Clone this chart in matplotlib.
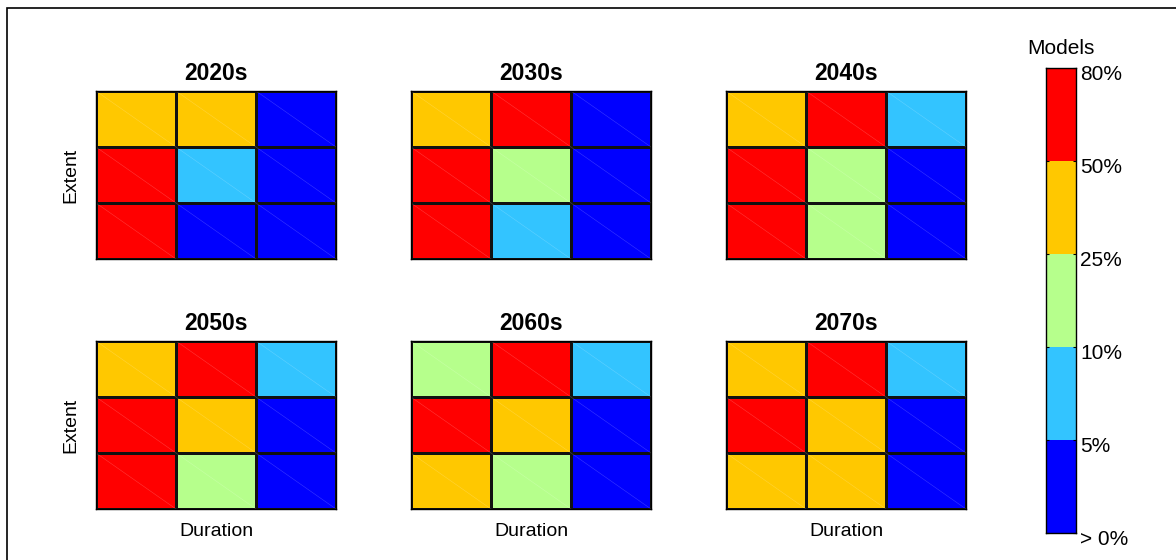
import matplotlib.pyplot as plt
import matplotlib.transforms as mtransforms
import numpy as np
from matplotlib.colors import ListedColormap, BoundaryNorm
from matplotlib.patches import Rectangle

plt.rcParams['font.family'] = ['Liberation Sans', 'DejaVu Sans']

# class index: 0 >0-5%, 1 5-10%, 2 10-25%, 3 25-50%, 4 50-80%
decades = ["2020s", "2030s", "2040s", "2050s", "2060s", "2070s"]
grid_2020 = [[3, 3, 0], [4, 1, 0], [4, 0, 0]]
grid_2030 = [[3, 4, 0], [4, 2, 0], [4, 1, 0]]
grid_2040 = [[3, 4, 1], [4, 2, 0], [4, 2, 0]]
grid_2050 = [[3, 4, 1], [4, 3, 0], [4, 2, 0]]
grid_2060 = [[2, 4, 1], [4, 3, 0], [3, 2, 0]]
grid_2070 = [[3, 4, 1], [4, 3, 0], [3, 3, 0]]
grids = [grid_2020, grid_2030, grid_2040, grid_2050, grid_2060, grid_2070]

class_colors = ["#0000FF", "#33C4FF", "#B6FF8C", "#FFC800", "#FF0000"]
tick_labels = ["> 0%", "5%", "10%", "25%", "50%", "80%"]

cmap = ListedColormap(class_colors)
norm = BoundaryNorm(np.arange(-0.5, 5.5, 1), cmap.N)

fig = plt.figure(figsize=(11.76, 5.6), dpi=100)

lefts = [96, 411, 726]
bottoms = [259, 509]
W, H = 1176.0, 560.0

for k, (name, g) in enumerate(zip(decades, grids)):
    r, c = divmod(k, 3)
    ax = fig.add_axes([lefts[c] / W, 1 - bottoms[r] / H, 240 / W, 168 / H])
    data = np.array(g)[::-1]
    ax.pcolormesh(data, cmap=cmap, norm=norm, edgecolors="#111111", linewidth=0.8)
    # faint diagonals from the original patch rendering
    for i in range(3):
        for j in range(3):
            ax.plot([j, j + 1], [i + 1, i], color="white", lw=0.4, alpha=0.22)
    ax.set_xlim(0, 3)
    ax.set_ylim(0, 3)
    ax.set_xticks([])
    ax.set_yticks([])
    for s in ax.spines.values():
        s.set_linewidth(1.0)
    ax.set_title(name, fontsize=16.5, fontweight="bold", pad=8)
    if c == 0:
        ax.set_ylabel("Extent", fontsize=14, labelpad=12)
    if r == 1:
        ax.set_xlabel("Duration", fontsize=14, labelpad=10)

cax = fig.add_axes([1046 / W, 1 - 533 / H, 30 / W, 465 / H])
cax.pcolormesh([0, 1], np.arange(6), np.arange(5).reshape(5, 1), cmap=cmap, norm=norm)
cax.set_xlim(0, 1)
cax.set_ylim(0, 5)
cax.set_xticks([])
cax.yaxis.tick_right()
cax.set_yticks(np.arange(6))
cax.set_yticklabels(tick_labels, fontsize=15)
cax.tick_params(axis="y", length=2, pad=3, direction="in", left=True)
shift = mtransforms.ScaledTranslation(0, -3 / 72, fig.dpi_scale_trans)
for lbl in cax.get_yticklabels():
    lbl.set_transform(lbl.get_transform() + shift)
for s in cax.spines.values():
    s.set_linewidth(1.0)
cax.set_title("Models", fontsize=15, pad=10)

fig.patches.append(Rectangle((7 / W, -0.1), 1.2, 1 - 8 / H + 0.1, transform=fig.transFigure,
                             fill=False, edgecolor="black", linewidth=1.2))

fig.savefig("out.png", dpi=100)
